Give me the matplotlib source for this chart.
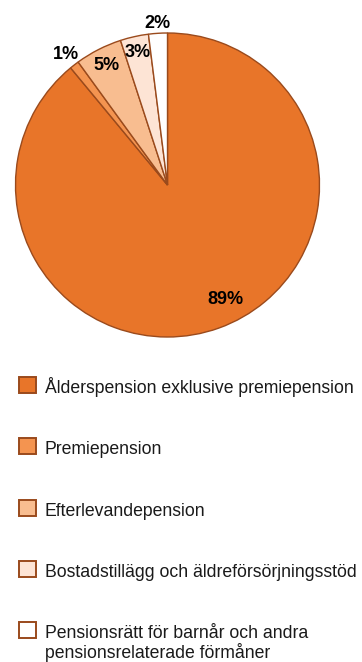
import numpy as np
import matplotlib.pyplot as plt
from matplotlib.patches import Rectangle

plt.rcParams['font.family'] = ['Liberation Sans', 'DejaVu Sans']

# Data
labels = ["Ålderspension exklusive premiepension",
          "Premiepension",
          "Efterlevandepension",
          "Bostadstillägg och äldreförsörjningsstöd",
          "Pensionsrätt för barnår och andra\npensionsrelaterade förmåner"]
values = [89, 1, 5, 3, 2]
pct_labels = ["89%", "1%", "5%", "3%", "2%"]
colors = ["#E87529", "#F49450", "#F8BD90", "#FDE4D5", "#FFFFFF"]
edge = "#9A4A1C"

fig = plt.figure(figsize=(3.62, 6.62), dpi=100)
ax = fig.add_axes([15.5 / 362, 325 / 662, 304 / 362, 304 / 662])

wedges, _ = ax.pie(values, colors=colors, startangle=90, counterclock=False,
                   wedgeprops=dict(edgecolor=edge, linewidth=1.0))
ax.set_aspect('equal')
ax.set_xlim(-1, 1)
ax.set_ylim(-1, 1)

# Label placement: radius per slice, angle from wedge mid (big slice shifted)
label_r = [0.846, 1.09, 0.88, 0.895, 1.067]
for i, w in enumerate(wedges):
    ang = (w.theta1 + w.theta2) / 2
    if i == 0:
        ang = -63.4
    x = label_r[i] * np.cos(np.radians(ang))
    y = label_r[i] * np.sin(np.radians(ang))
    ax.text(x, y, pct_labels[i], ha='center', va='center',
            fontsize=13, fontweight='bold', color='black')

# Legend drawn manually so box aligns with first line
y0 = 385
step = 61.3
for i, lab in enumerate(labels):
    yc = y0 + i * step
    box = Rectangle((18.5 / 362, 1 - (yc + 8) / 662), 17 / 362, 16 / 662,
                    transform=fig.transFigure, facecolor=colors[i],
                    edgecolor=edge, linewidth=1.4)
    fig.add_artist(box)
    lines = lab.split("\n")
    for k, line in enumerate(lines):
        fig.text(45 / 362, 1 - (yc + 8 + 20 * k) / 662, line,
                 ha='left', va='baseline', fontsize=12.7, color='#1a1a1a')

fig.savefig("out.png", dpi=100)
